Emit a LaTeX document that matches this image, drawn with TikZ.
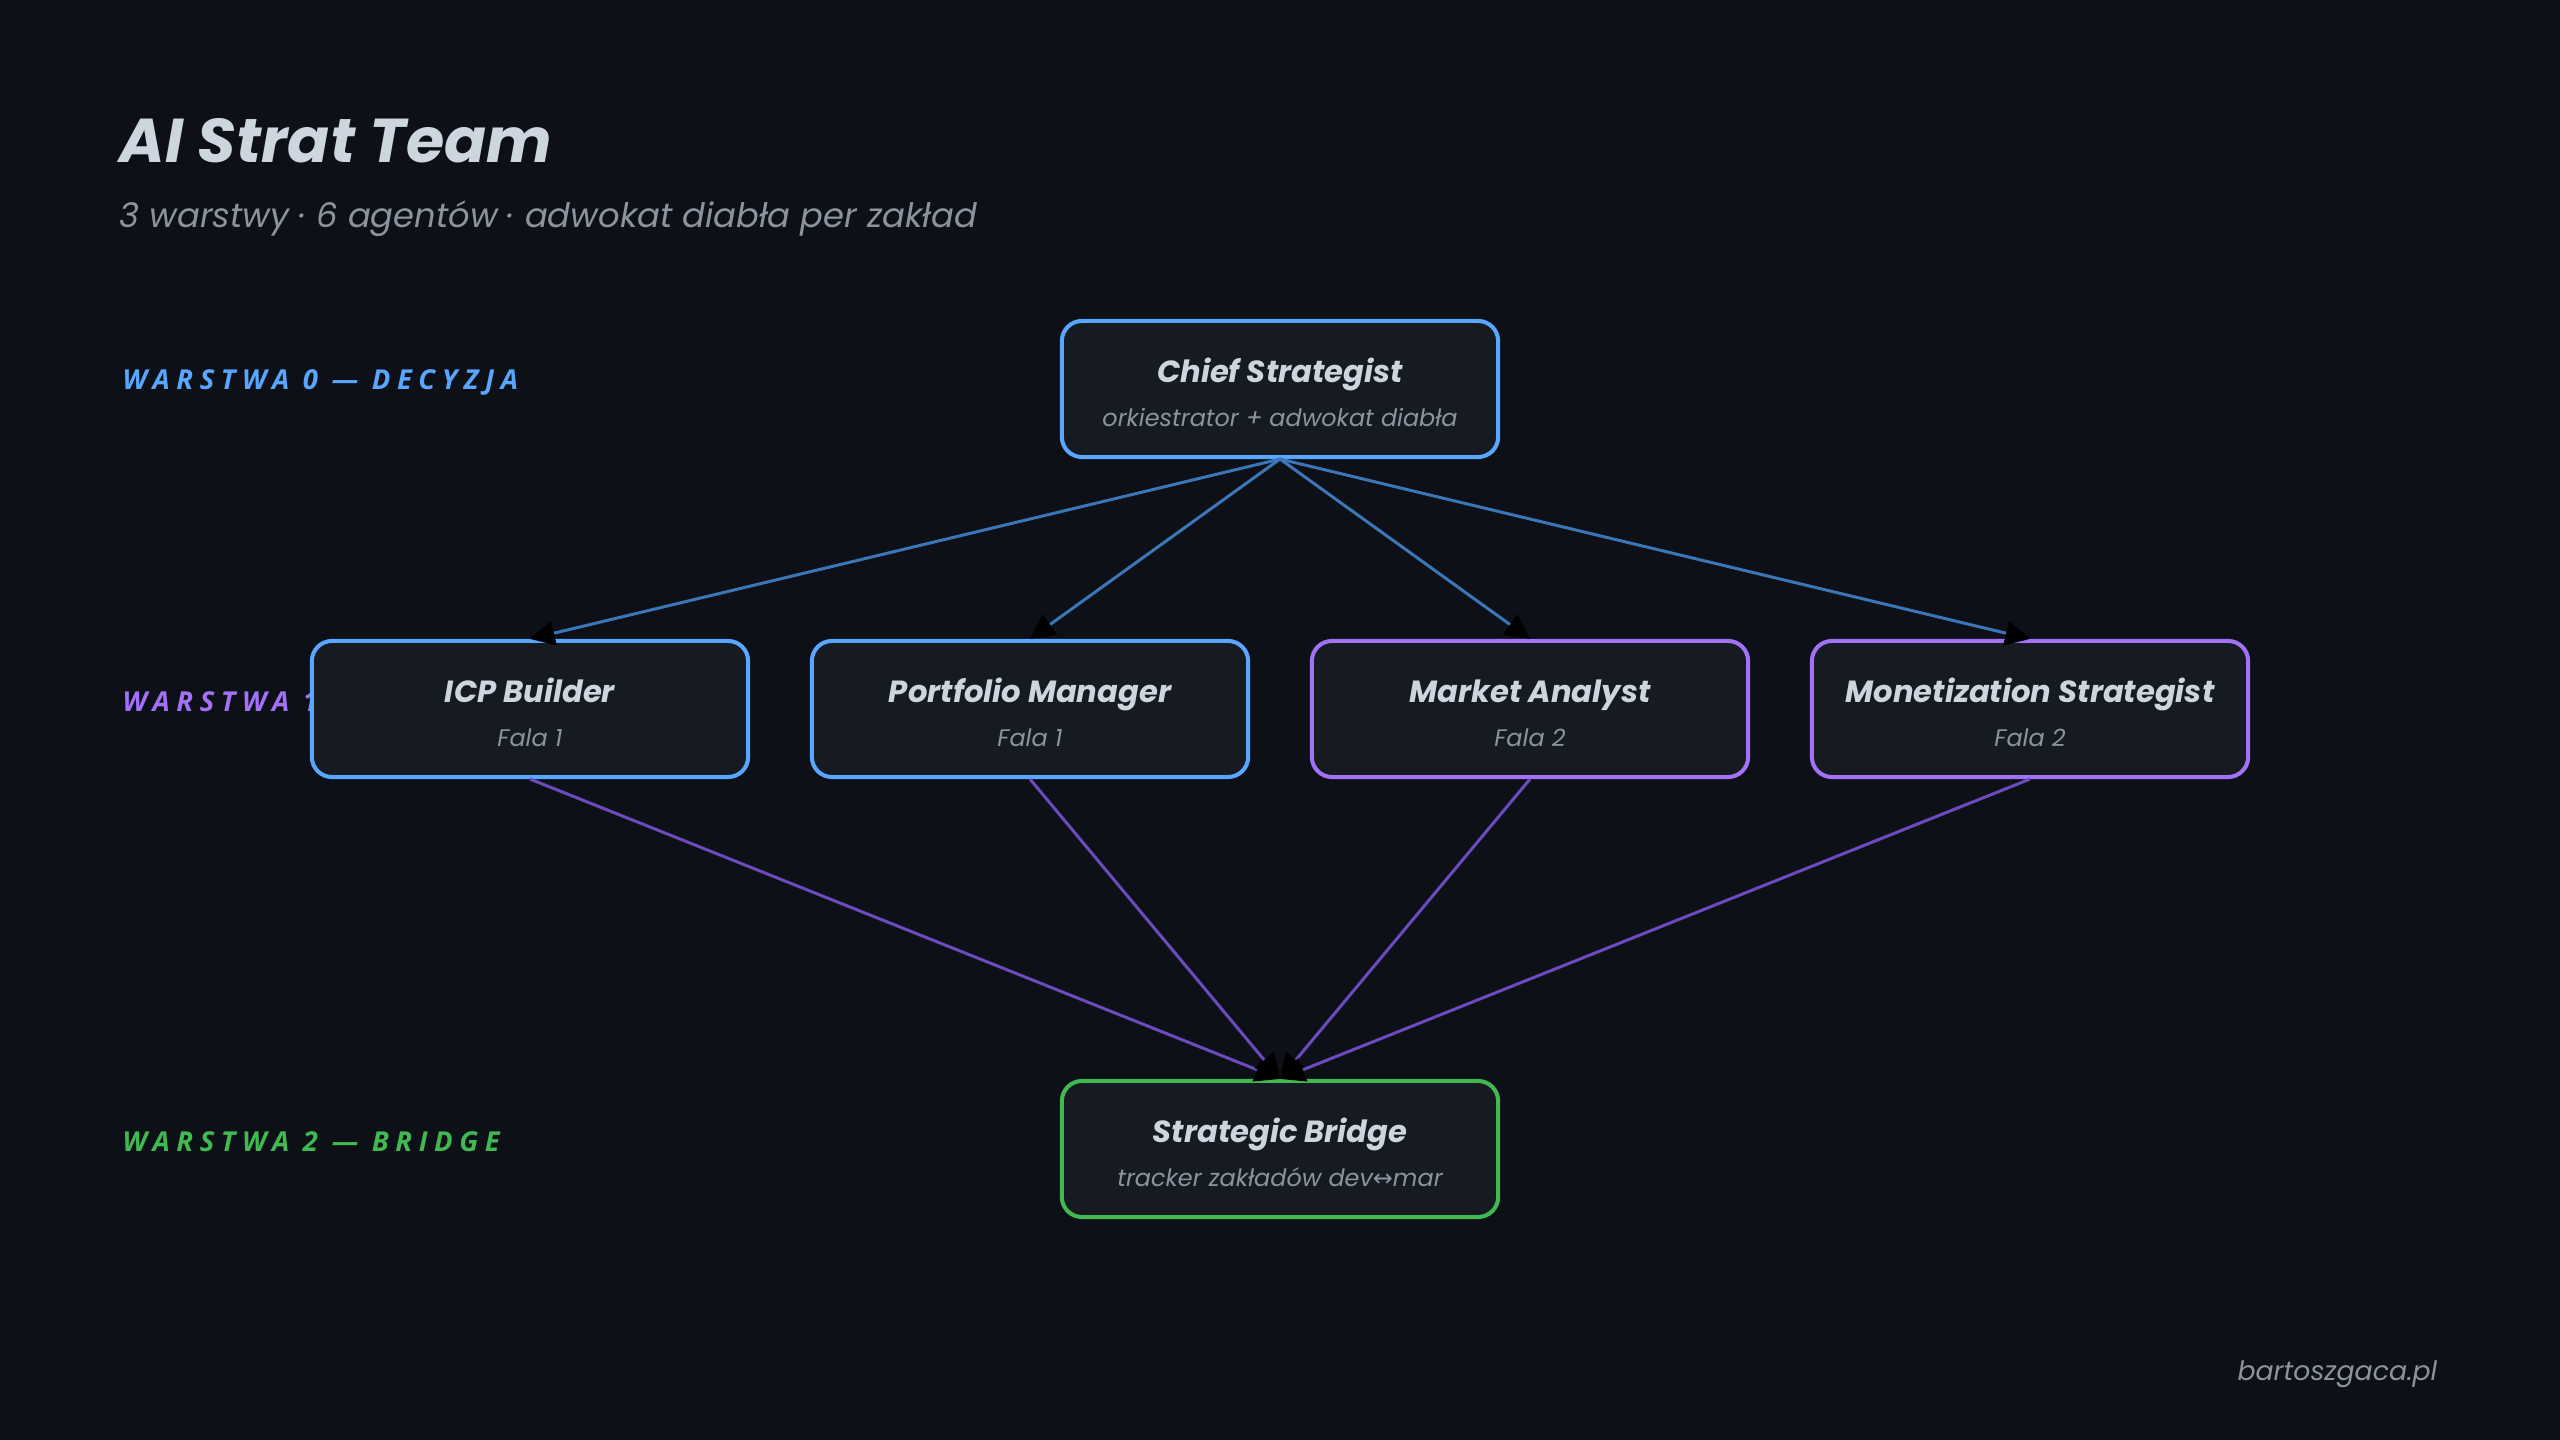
\documentclass[tikz,border=0pt]{standalone}
\usepackage{fontspec}
\setmainfont{Poppins}
\newfontfamily\labelfont[LetterSpace=24]{Open Sans}
\newfontfamily\symfont{DejaVu Sans}
\usetikzlibrary{arrows.meta}

\definecolor{bgdark}{HTML}{0D1117}
\definecolor{nodebg}{HTML}{161B22}
\definecolor{txtmain}{HTML}{CDD5DE}
\definecolor{txtsub}{HTML}{8B949E}
\definecolor{lblue}{HTML}{58A6FF}
\definecolor{lpurple}{HTML}{A371F7}
\definecolor{lgreen}{HTML}{3FB950}
\definecolor{edgeblue}{HTML}{3B76B8}
\definecolor{edgepurple}{HTML}{6B4BBE}

\tikzset{
  agent/.style={draw, line width=1.15pt, rounded corners=5.7pt, fill=nodebg,
    minimum width=4.36cm, minimum height=1.36cm, align=center, text=txtmain},
  layerlbl/.style={anchor=base west, font=\labelfont\bfseries\itshape\fontsize{7.8}{9}\selectfont},
  link/.style={line width=0.85pt, -{Triangle[length=7pt,width=7pt,color=black]}},
}

\newcommand{\agentname}[1]{{\bfseries\itshape\fontsize{8.7}{10}\selectfont\rule{0pt}{9pt}#1}}
\newcommand{\agentsub}[1]{{\itshape\fontsize{6.8}{8}\selectfont\color{txtsub}#1}}

\begin{document}
\begin{tikzpicture}[x=0.01cm, y=-0.01cm]

  %--- background ---
  \fill[bgdark] (0,0) rectangle (2560,1440);
  \useasboundingbox (0,0) rectangle (2560,1440);

  %--- header ---
  \node[anchor=base west, inner sep=0pt, text=txtmain, font=\bfseries\itshape\fontsize{17.6}{21}\selectfont]
    (title) at (119,163) {AI Strat Team};
  \node[anchor=base west, inner sep=0pt, text=txtsub, font=\itshape\fontsize{9.6}{12}\selectfont]
    (subtitle) at (119,228) {3 warstwy · 6 agentów · adwokat diabła per zakład};

  %--- layer labels (drawn first, boxes may cover them) ---
  \node[layerlbl, inner sep=0pt, text=lblue] (lay0) at (122,390) {WARSTWA 0 — DECYZJA};
  \node[layerlbl, inner sep=0pt, text=lpurple] (lay1) at (122,712) {WARSTWA 1};
  \node[layerlbl, inner sep=0pt, text=lgreen] (lay2) at (122,1151) {WARSTWA 2 — BRIDGE};

  %--- layer 0 ---
  \node[agent, draw=lblue] (chief) at (1280,389)
    {\agentname{Chief Strategist}\\[0.5pt]\agentsub{orkiestrator + adwokat diabła}};

  %--- layer 1 ---
  \node[agent, draw=lblue] (icp) at (530,709)
    {\agentname{ICP Builder}\\[0.5pt]\agentsub{Fala 1}};
  \node[agent, draw=lblue] (portfolio) at (1030,709)
    {\agentname{Portfolio Manager}\\[0.5pt]\agentsub{Fala 1}};
  \node[agent, draw=lpurple] (market) at (1530,709)
    {\agentname{Market Analyst}\\[0.5pt]\agentsub{Fala 2}};
  \node[agent, draw=lpurple] (monet) at (2030,709)
    {\agentname{Monetization Strategist}\\[0.5pt]\agentsub{Fala 2}};

  %--- layer 2 ---
  \node[agent, draw=lgreen] (bridge) at (1280,1149)
    {\agentname{Strategic Bridge}\\[0.5pt]\agentsub{tracker zakładów dev{\symfont ↔}mar}};

  % chief -> layer 1
  \foreach \t in {icp,portfolio,market,monet}
    \draw[link, edgeblue] (chief.south) -- (\t.north);

  % layer 1 -> bridge
  \foreach \s in {icp,portfolio,market,monet}
    \draw[link, edgepurple] (\s.south) -- (bridge.north);

  %--- footer ---
  \node[anchor=base east, inner sep=0pt, text=txtsub, font=\itshape\fontsize{7.6}{10}\selectfont]
    (site) at (2438,1380) {bartoszgaca.pl};

\end{tikzpicture}
\end{document}
